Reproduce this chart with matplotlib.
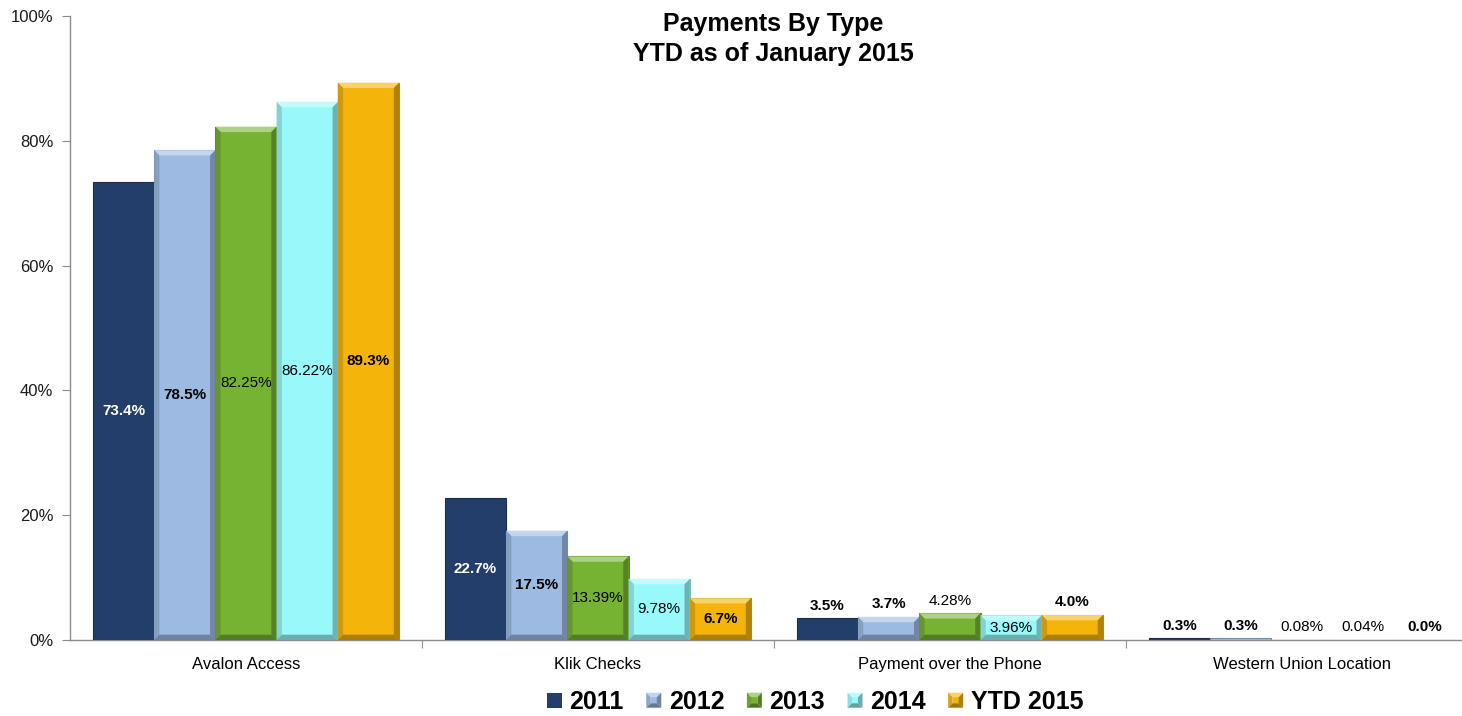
import matplotlib
matplotlib.use("Agg")
from matplotlib import pyplot as plt
from matplotlib import patches as patches
from matplotlib.legend_handler import HandlerBase
from matplotlib.colors import to_rgb
import numpy as np

plt.rcParams['font.family'] = ['Liberation Sans', 'DejaVu Sans']

categories = ["Avalon Access", "Klik Checks", "Payment over the Phone", "Western Union Location"]
series_names = ["2011", "2012", "2013", "2014", "YTD 2015"]
v2011 = [73.4, 22.7, 3.5, 0.3]
v2012 = [78.5, 17.5, 3.7, 0.3]
v2013 = [82.25, 13.39, 4.28, 0.08]
v2014 = [86.22, 9.78, 3.96, 0.04]
v2015 = [89.3, 6.7, 4.0, 0.0]
series_values = [v2011, v2012, v2013, v2014, v2015]
label_decimals = [1, 1, 2, 2, 1]

colors = ["#233E6A", "#9DBBE2", "#77B333", "#99F9FA", "#F4B40A"]
beveled = [False, True, True, True, True]
# where each data label sits: 'c' = middle of bar, 'o' = above bar
placement = [["c"] * 5, ["c"] * 5, ["o", "o", "o", "c", "o"], ["o"] * 5]


def shade(c, f):
    r = np.array(to_rgb(c))
    if f > 0:
        return tuple(r + (1 - r) * f)
    return tuple(r * (1 + f))


def add_bevel(ax, bar, color):
    x0, y0 = bar.get_x(), bar.get_y()
    x1, y1 = x0 + bar.get_width(), y0 + bar.get_height()
    bx, by = 0.015, 0.85
    if bar.get_height() < 2.5 * by:
        return
    parts = [
        ([(x0, y1), (x1, y1), (x1 - bx, y1 - by), (x0 + bx, y1 - by)], 0.4),
        ([(x0, y0), (x0, y1), (x0 + bx, y1 - by), (x0 + bx, y0 + by)], -0.15),
        ([(x1, y0), (x1, y1), (x1 - bx, y1 - by), (x1 - bx, y0 + by)], -0.28),
        ([(x0, y0), (x1, y0), (x1 - bx, y0 + by), (x0 + bx, y0 + by)], -0.3),
    ]
    for pts, f in parts:
        ax.add_patch(patches.Polygon(pts, closed=True, fc=shade(color, f), ec='none', zorder=3.1))


class BevelSquare(HandlerBase):
    def __init__(self, flat):
        super().__init__()
        self.flat = flat

    def create_artists(self, legend, orig_handle, xdescent, ydescent, width, height, fontsize, trans):
        c = orig_handle.get_facecolor()
        s = min(width, height)
        x0, y0 = -xdescent + (width - s) / 2, -ydescent + (height - s) / 2
        x1, y1 = x0 + s, y0 + s
        if self.flat:
            return [patches.Rectangle((x0, y0), s, s, fc=c, ec='none', transform=trans)]
        d = s * 0.3
        parts = [
            ([(x0, y1), (x1, y1), (x1 - d, y1 - d), (x0 + d, y1 - d)], 0.4),
            ([(x0, y0), (x0, y1), (x0 + d, y1 - d), (x0 + d, y0 + d)], -0.1),
            ([(x1, y0), (x1, y1), (x1 - d, y1 - d), (x1 - d, y0 + d)], -0.3),
            ([(x0, y0), (x1, y0), (x1 - d, y0 + d), (x0 + d, y0 + d)], -0.35),
        ]
        arts = [patches.Rectangle((x0 + d, y0 + d), s - 2 * d, s - 2 * d, fc=c, ec='none', transform=trans)]
        for pts, f in parts:
            arts.append(patches.Polygon(pts, closed=True, fc=shade(c, f), ec='none', transform=trans))
        return arts


fig = plt.figure(figsize=(14.62, 7.16), dpi=100)
ax = fig.add_axes([70 / 1462, 76 / 716, 1392 / 1462, 624 / 716])

x = np.arange(len(categories))
n = len(series_values)
width = 0.174
handles = []
for i, vals in enumerate(series_values):
    offs = (i - (n - 1) / 2) * width
    bars = ax.bar(x + offs, vals, width, color=colors[i], edgecolor=shade(colors[i], -0.25),
                  linewidth=0.8, zorder=3, label=series_names[i])
    handles.append(bars[0])
    for j, b in enumerate(bars):
        if beveled[i]:
            add_bevel(ax, b, colors[i])
        txt = f"{vals[j]:.{label_decimals[i]}f}%"
        weight = 'bold' if label_decimals[i] == 1 else 'normal'
        cx = b.get_x() + b.get_width() / 2
        if placement[j][i] == 'c':
            col = 'white' if i == 0 else 'black'
            ax.text(cx, vals[j] / 2, txt, ha='center', va='center', fontsize=11,
                    fontweight=weight, color=col, zorder=5)
        else:
            ax.annotate(txt, (cx, vals[j]), xytext=(0, 4), textcoords='offset points',
                        ha='center', va='bottom', fontsize=11, fontweight=weight,
                        color='black', zorder=5)

ax.set_xlim(-0.5, 3.455)
ax.set_ylim(0, 100)
ax.set_yticks(np.arange(0, 101, 20))
ax.set_yticklabels([f"{v}%" for v in range(0, 101, 20)], fontsize=12)
ax.set_xticks([0.5, 1.5, 2.5])
ax.set_xticklabels([])
ax.set_xticks(x, minor=True)
ax.set_xticklabels(categories, minor=True, fontsize=12)
ax.tick_params(axis='x', which='major', length=6, color='#8C8C8C', direction='out')
ax.tick_params(axis='x', which='minor', length=0, pad=12)
ax.tick_params(axis='y', length=6, color='#8C8C8C', pad=6, labelcolor='#1A1A1A')
for side in ['top', 'right']:
    ax.spines[side].set_visible(False)
for side in ['left', 'bottom']:
    ax.spines[side].set_color('#8C8C8C')
    ax.spines[side].set_linewidth(1.0)

fig.text(773 / 1462, 1 - 12 / 716, "Payments By Type\nYTD as of January 2015", ha='center', va='top',
         fontsize=18, fontweight='bold', linespacing=1.32)

handler_map = {h: BevelSquare(not beveled[i]) for i, h in enumerate(handles)}
fig.legend(handles, series_names, loc='center', bbox_to_anchor=(815 / 1462, 14 / 716), ncol=5,
           frameon=False, prop={'weight': 'bold', 'size': 18}, handlelength=0.6, handleheight=0.6,
           handletextpad=0.3, columnspacing=0.9, handler_map=handler_map)

fig.savefig("out.png", dpi=100)
